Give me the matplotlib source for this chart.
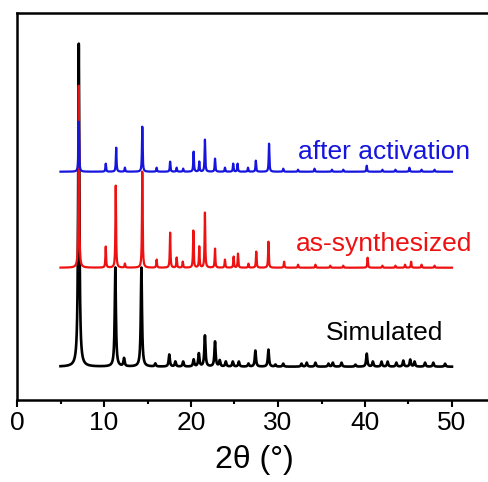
import numpy as np
import matplotlib.pyplot as plt

plt.rcParams['font.family'] = ['Liberation Sans', 'DejaVu Sans']

# peak positions (2theta, deg) and heights (arb. units)
sim_pos = [7.1, 11.3, 12.3, 14.3, 15.9, 17.5, 18.2, 19.1, 20.3, 20.9, 21.6,
           22.76, 23.3, 24.0, 24.8, 25.5, 26.6, 27.4, 28.9, 29.7, 30.6,
           32.7, 33.3, 34.3, 35.8, 36.3, 37.3, 38.9, 40.2, 40.9, 41.9,
           42.6, 43.6, 44.4, 45.2, 45.7, 46.9, 47.85, 49.2]
sim_h = [323, 99, 8, 99, 3, 12, 5, 5, 7, 13, 31,
         25, 6, 5, 5, 5, 3, 16, 17, 2, 3,
         3, 4, 4, 3, 4, 4, 2, 13, 5, 5,
         5, 4, 6, 7, 5, 4, 4, 3]

syn_pos = [7.1, 10.2, 11.35, 12.4, 14.4, 16.05, 17.6, 18.35, 19.05, 20.27,
           20.95, 21.6, 22.76, 23.9, 24.9, 25.4, 26.6, 27.5, 28.9, 30.7,
           32.3, 34.3, 36.0, 37.5, 40.3, 42.0, 43.5, 44.6, 45.3, 46.5, 48.0]
syn_h = [182, 21, 82, 4, 96, 8, 35, 10, 6, 37,
         21, 55, 19, 8, 11, 14, 4, 16, 26, 6,
         3, 3, 2, 2, 10, 2, 2, 3, 6, 3, 2]

act_pos = [7.1, 10.2, 11.4, 12.4, 14.4, 16.05, 17.6, 18.35, 19.1, 20.3,
           20.95, 21.6, 22.76, 23.9, 24.85, 25.35, 26.55, 27.45, 28.97, 30.6,
           32.3, 34.2, 36.2, 37.5, 40.2, 42.0, 43.5, 45.1, 46.5, 48.0]
act_h = [50, 8, 24, 4, 45, 4, 10, 4, 3, 20,
         10, 32, 13, 4, 8, 8, 4, 11, 28, 3,
         2, 3, 2, 2, 6, 2, 2, 4, 2, 2]

offsets = [0, 99, 195]
labels = ["Simulated", "as-synthesized", "after activation"]
colors = ["black", "#ee1111", "#1515dd"]
label_x = [49.0, 52.3, 52.1]
label_y = [27, 116, 208]
widths = [1.9, 1.6, 1.6]


def pattern(x, pos, h, fwhm):
    y = np.zeros_like(x)
    g = fwhm / 2
    for p, a in zip(pos, h):
        y += a * g**2 / ((x - p)**2 + g**2)
    return y


x = np.arange(5, 50.0, 0.005)
curves = [pattern(x, sim_pos, sim_h, 0.16),
          pattern(x, syn_pos, syn_h, 0.09),
          pattern(x, act_pos, act_h, 0.09)]

fig = plt.figure(figsize=(4.88, 4.82), dpi=100)
xmax = 54.5
ax = fig.add_axes([17/488, 82/482, xmax*8.7/488, 387/482])

for y, off, c, w in zip(curves, offsets, colors, widths):
    ax.plot(x, y + off, color=c, lw=w)

for lab, c, lx, ly in zip(labels, colors, label_x, label_y):
    ax.text(lx, ly, lab, color=c, fontsize=19, ha='right', va='baseline')

ax.set_xlim(0, xmax)
ax.set_ylim(-33.3, 353.7)
ax.set_xticks([0, 10, 20, 30, 40, 50])
ax.set_xticks([5, 15, 25, 35, 45], minor=True)
ax.set_yticks([])
ax.tick_params(axis='x', which='major', direction='out', length=5, width=1.5,
               labelsize=19, pad=3)
ax.tick_params(axis='x', which='minor', direction='out', length=3, width=1.5)
for s in ax.spines.values():
    s.set_linewidth(1.8)
ax.set_xlabel("2θ (°)", fontsize=23, labelpad=7)

fig.savefig("out.png", dpi=100)
